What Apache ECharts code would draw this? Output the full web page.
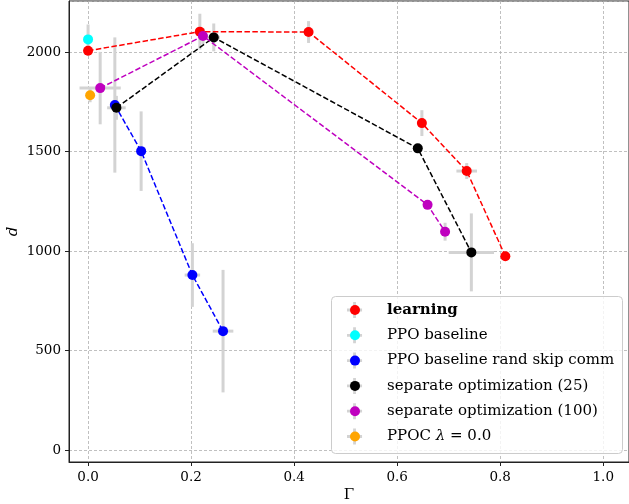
<!DOCTYPE html>
<html>
<head>
<meta charset="utf-8">
<script src="https://cdn.jsdelivr.net/npm/echarts@6/dist/echarts.min.js"></script>
<style>
  html, body { margin: 0; padding: 0; background: #fff; }
  #chart { width: 629px; height: 504px; }
</style>
</head>
<body>
<div id="chart"></div>
<script>
// learning
const learnGamma = [0.0, 0.217, 0.428, 0.648, 0.735, 0.81]
const learnD = [2008, 2104, 2102, 1644, 1403, 975]
const learnGammaErr = [0.005, 0.008, 0.005, 0.006, 0.02, 0.006]
const learnDErr = [25, 90, 55, 65, 40, 15]

// PPO baseline
const ppoGamma = [0.0]
const ppoD = [2065]
const ppoGammaErr = [0.0]
const ppoDErr = [75]

// PPO baseline rand skip comm
const skipGamma = [0.052, 0.103, 0.2025, 0.262]
const skipD = [1735, 1503, 880, 598]
const skipGammaErr = [0.005, 0.005, 0.015, 0.02]
const skipDErr = [340, 200, 160, 308]

// separate optimization (25)
const sep25Gamma = [0.055, 0.244, 0.64, 0.744]
const sep25D = [1721, 2075, 1517, 994]
const sep25GammaErr = [0.018, 0.012, 0.005, 0.044]
const sep25DErr = [60, 70, 15, 196]

// separate optimization (100)
const sep100Gamma = [0.0235, 0.223, 0.659, 0.693]
const sep100D = [1820, 2082, 1233, 1098]
const sep100GammaErr = [0.04, 0.01, 0.005, 0.008]
const sep100DErr = [182, 40, 20, 45]

// PPOC
const ppocGamma = [0.004]
const ppocD = [1784]
const ppocGammaErr = [0.008]
const ppocDErr = [35]

const groups = [
  { name: 'learning', color: '#ff0000', line: true, g: learnGamma, d: learnD, ge: learnGammaErr, de: learnDErr },
  { name: 'PPO baseline', color: '#00ffff', line: false, g: ppoGamma, d: ppoD, ge: ppoGammaErr, de: ppoDErr },
  { name: 'PPO baseline rand skip comm', color: '#0000ff', line: true, g: skipGamma, d: skipD, ge: skipGammaErr, de: skipDErr },
  { name: 'separate optimization (25)', color: '#000000', line: true, g: sep25Gamma, d: sep25D, ge: sep25GammaErr, de: sep25DErr },
  { name: 'separate optimization (100)', color: '#bf00bf', line: true, g: sep100Gamma, d: sep100D, ge: sep100GammaErr, de: sep100DErr },
  { name: 'PPOC λ = 0.0', color: '#ffa500', line: false, g: ppocGamma, d: ppocD, ge: ppocGammaErr, de: ppocDErr },
]

const FONT = 'DejaVu Serif'
const ERR_COLOR = '#d3d3d3'

// 误差棒
const errorBarItem = (params, api) => {
  const x = api.value(0)
  const y = api.value(1)
  const xe = api.value(2)
  const ye = api.value(3)
  const l = api.coord([x - xe, y])
  const r = api.coord([x + xe, y])
  const t = api.coord([x, y + ye])
  const b = api.coord([x, y - ye])
  const style = { stroke: ERR_COLOR, lineWidth: 3 }
  return {
    type: 'group',
    children: [
      { type: 'line', shape: { x1: l[0], y1: l[1], x2: r[0], y2: r[1] }, style },
      { type: 'line', shape: { x1: t[0], y1: t[1], x2: b[0], y2: b[1] }, style },
    ],
  }
}

const series = []
groups.forEach((grp) => {
  series.push({
    name: grp.name + ' err',
    type: 'custom',
    renderItem: errorBarItem,
    encode: { x: 0, y: 1 },
    z: 1,
    silent: true,
    data: grp.g.map((g, k) => [g, grp.d[k], grp.ge[k], grp.de[k]]),
  })
})
groups.forEach((grp, i) => {
  series.push({
    name: grp.name,
    type: 'line',
    z: 2 + i,
    symbol: 'circle',
    symbolSize: 10,
    itemStyle: { color: grp.color },
    lineStyle: grp.line
      ? { color: grp.color, width: 1.5, type: [5.5, 2.4] }
      : { width: 0, opacity: 0 },
    data: grp.g.map((g, k) => [g, grp.d[k]]),
  })
})

const names = groups.map((g) => g.name)
const legendBase = {
  orient: 'vertical',
  top: 302,
  data: names,
  selectedMode: false,
  itemGap: 9.3,
  padding: 0,
}

const legendFormatter = (name) => {
  if (name === 'learning') return '{s|}{b|learning}'
  if (name.startsWith('PPOC')) return '{s|}{n|PPOC }{i|λ}{n| = 0.0}'
  return '{s|}{n|' + name + '}'
}

const textRich = (color) => ({
  color,
  fontFamily: FONT,
  fontSize: 15,
  lineHeight: 16,
  rich: {
    s: { width: 22 },
    n: { fontFamily: FONT, fontSize: 15, color },
    b: { fontFamily: FONT, fontSize: 15, fontWeight: 'bold', color },
    i: { fontFamily: FONT, fontSize: 15, fontStyle: 'italic', color },
  },
})

const option = {
  backgroundColor: '#fff',
  animation: false,
  grid: {
    left: 69,
    top: 1,
    right: 0,
    bottom: 42,
    outerBoundsMode: 'none',
    containLabel: false,
    show: true,
    borderColor: '#222',
    borderWidth: 1,
  },
  graphic: [
    {
      type: 'rect',
      left: 331,
      top: 296,
      shape: { width: 291, height: 157, r: 4 },
      style: { fill: 'rgba(255,255,255,0.8)', stroke: '#cccccc', lineWidth: 1 },
      z: 10,
    },
  ],
  legend: [
    {
      ...legendBase,
      left: 347,
      icon: 'path://M0,7 L16,7 L16,10 L0,10 Z M6.5,0 L9.5,0 L9.5,17 L6.5,17 Z',
      itemWidth: 16,
      itemHeight: 16,
      itemStyle: { color: ERR_COLOR },
      formatter: legendFormatter,
      textStyle: textRich('rgba(0,0,0,0)'),
      z: 11,
    },
    {
      ...legendBase,
      left: 350,
      icon: 'circle',
      itemWidth: 10,
      itemHeight: 10,
      formatter: legendFormatter,
      textStyle: textRich('#000'),
      z: 12,
    },
  ],
  xAxis: {
    type: 'value',
    min: -0.037,
    max: 1.05,
    splitNumber: 5,
    name: 'Γ',
    nameLocation: 'middle',
    nameGap: 26,
    nameMoveOverlap: false,
    nameTextStyle: { fontFamily: FONT, fontSize: 15, color: '#000' },
    axisLine: { show: true, onZero: false, lineStyle: { color: '#222', width: 1 } },
    axisTick: { show: true, length: 4, lineStyle: { color: '#222' } },
    axisLabel: {
      showMinLabel: false,
      showMaxLabel: false,
      margin: 8,
      fontFamily: FONT,
      fontSize: 13.5,
      color: '#000',
      formatter: (v) => v.toFixed(1),
    },
    splitLine: { show: true, lineStyle: { color: '#b0b0b0', width: 0.8, type: [3, 2] } },
  },
  yAxis: {
    type: 'value',
    min: -60,
    max: 2258,
    splitNumber: 5,
    name: 'd',
    nameLocation: 'middle',
    nameRotate: 90,
    nameGap: 48,
    nameMoveOverlap: false,
    nameTextStyle: { fontFamily: FONT, fontSize: 15, fontStyle: 'italic', color: '#000' },
    axisLine: { show: true, onZero: false, lineStyle: { color: '#222', width: 1 } },
    axisTick: { show: true, length: 4, lineStyle: { color: '#222' } },
    axisLabel: {
      showMinLabel: false,
      showMaxLabel: false,
      margin: 8,
      fontFamily: FONT,
      fontSize: 13.5,
      color: '#000',
      formatter: (v) => String(v),
    },
    splitLine: { show: true, lineStyle: { color: '#b0b0b0', width: 0.8, type: [3, 2] } },
  },
  series,
}

const chart = echarts.init(document.getElementById('chart'), null, { renderer: 'canvas' })
chart.setOption(option)
window.addEventListener('resize', () => chart.resize())
</script>
</body>
</html>
